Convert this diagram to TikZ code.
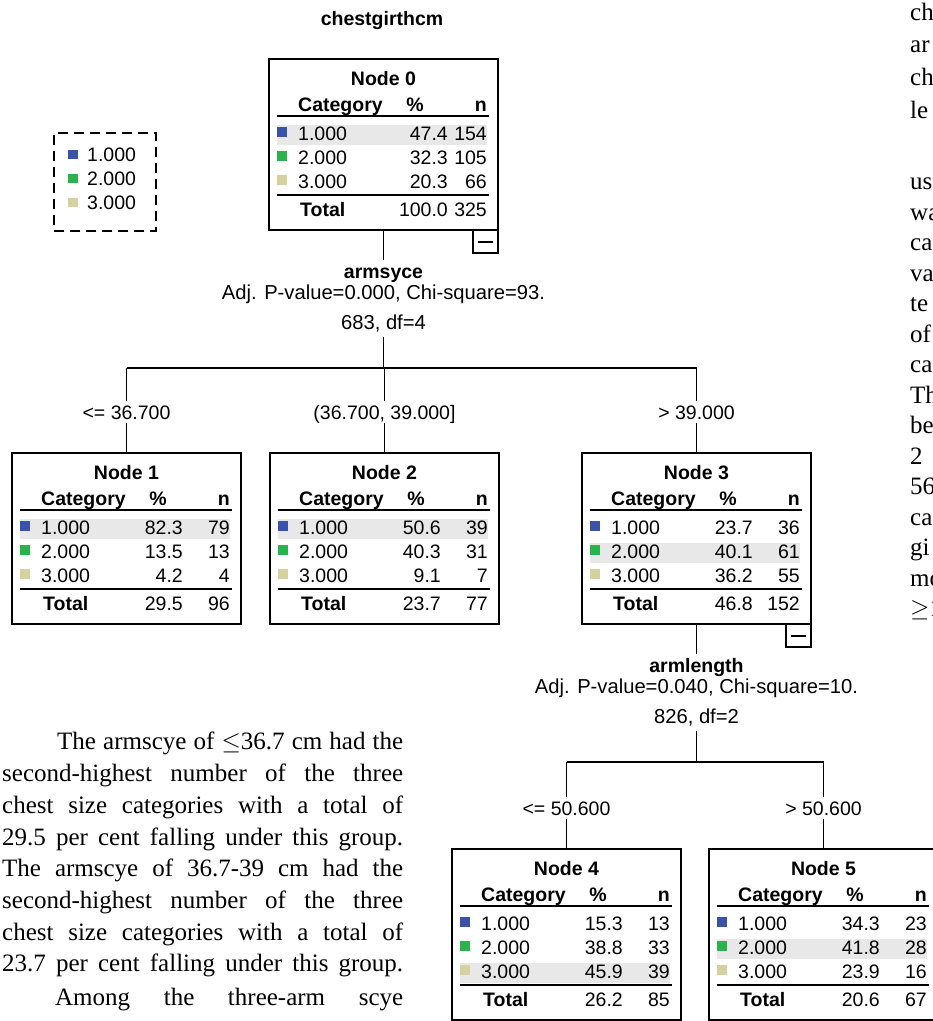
\documentclass[tikz,border=0pt]{standalone}
\usepackage{fontspec}
\setmainfont{Liberation Serif}
\newfontfamily\spssf{Liberation Sans}
\usetikzlibrary{calc}

\definecolor{catA}{HTML}{3A52A8}
\definecolor{catB}{HTML}{2BB24C}
\definecolor{catC}{HTML}{D6D2A0}
\definecolor{hl}{HTML}{E8E8E8}

\newcommand\sfnt{\spssf\fontsize{19.5}{21}\selectfont}
\newcommand\stfnt{\spssf\fontsize{20.2}{21}\selectfont}
\newcommand\bodyfnt{\fontsize{25}{32}\selectfont}
\def\pcol{171}

\tikzset{
 treebox/.style={draw, line width=1.8pt, minimum width=229pt, minimum height=171pt, inner sep=0pt, outer sep=0pt, anchor=north west},
 sp/.style={font=\sfnt, inner sep=0pt},
 hd/.style={font=\sfnt\bfseries, inner sep=0pt},
 st/.style={font=\stfnt, inner sep=0pt, anchor=base},
 rule/.style={line width=1.6pt},
 conn/.style={line width=1.8pt},
 splitlab/.style={font=\sfnt, inner xsep=2pt, inner ysep=4pt, text height=14pt, text depth=0pt, anchor=base},
 body/.style={font=\bodyfnt, inner sep=0pt, anchor=base west},
 minusbox/.style={line width=1.6pt},
}

\newcommand\TreeBody[9]{%
\begin{scope}[shift={(#1.north west)}]
 \fill[hl] (8,{42+24*#9}) rectangle (218,{62+24*#9});
 \node[hd,anchor=base] (#1-t) at (114.5,26) {#2};
 \node[hd,anchor=base west] (#1-c) at (29,52) {Category};
 \node[hd,anchor=base] (#1-p) at (146,52) {\%};
 \node[hd,anchor=base east] (#1-n) at (218,52) {n};
 \draw[rule] (8,57) -- (220,57);
 \fill[catA] (8,68) rectangle (18,78);
 \fill[catB] (8,92) rectangle (18,102);
 \fill[catC] (8,116) rectangle (18,126);
 \node[sp,anchor=base west] (#1-k1) at (29,81) {1.000};
 \node[sp,anchor=base west] (#1-k2) at (29,105) {2.000};
 \node[sp,anchor=base west] (#1-k3) at (29,129) {3.000};
 \node[sp,anchor=base east] (#1-p1) at (\pcol,81) {#3};
 \node[sp,anchor=base east] (#1-n1) at (218,81) {#4};
 \node[sp,anchor=base east] (#1-p2) at (\pcol,105) {#5};
 \node[sp,anchor=base east] (#1-n2) at (218,105) {#6};
 \node[sp,anchor=base east] (#1-p3) at (\pcol,129) {#7};
 \node[sp,anchor=base east] (#1-n3) at (218,129) {#8};
 \draw[rule] (8,136) -- (220,136);
\end{scope}}

\newcommand\TreeTotal[3]{%
\begin{scope}[shift={(#1.north west)}]
 \node[hd,anchor=base west] (#1-tl) at (31,157) {Total};
 \node[sp,anchor=base east] (#1-tp) at (\pcol,157) {#2};
 \node[sp,anchor=base east] (#1-tn) at (218,157) {#3};
\end{scope}}

\newcommand\TreeMinus[1]{%
\begin{scope}[shift={(#1.south east)}]
 \draw[minusbox] (-25,0) rectangle (0,23);
 \draw[minusbox] (-20,12) -- (-5,12);
\end{scope}}

\begin{document}
\begin{tikzpicture}[x=1pt,y=-1pt]
\useasboundingbox (0,0) rectangle (933,1021);
\clip (0,0) rectangle (933,1021);

% ---------- title and legend ----------
\node[hd,anchor=base] (title) at (382,25) {chestgirthcm};
\node[draw, line width=2.2pt, dash pattern=on 10pt off 6pt, minimum width=102pt, minimum height=98pt, inner sep=0pt, anchor=north west] (legend) at (53,132) {};
\fill[catA] (68,150) rectangle (78,159);
\fill[catB] (68,174) rectangle (78,183);
\fill[catC] (68,198) rectangle (78,207);
\node[sp,anchor=base west] (lg1) at (87,161) {1.000};
\node[sp,anchor=base west] (lg2) at (87,185) {2.000};
\node[sp,anchor=base west] (lg3) at (87,209) {3.000};

% ---------- tree nodes ----------
\node[treebox] (n0) at (269,59) {};
\node[treebox] (n1) at (12,453) {};
\node[treebox] (n2) at (270,453) {};
\node[treebox] (n3) at (582,453) {};
\node[treebox] (n4) at (452,849) {};
\node[treebox] (n5) at (709,849) {};

\def\pcol{179}
\TreeBody{n0}{Node 0}{47.4}{154}{32.3}{105}{20.3}{66}{1}
\TreeTotal{n0}{100.0}{325}
\def\pcol{171}
\TreeBody{n1}{Node 1}{82.3}{79}{13.5}{13}{4.2}{4}{1}
\TreeTotal{n1}{29.5}{96}
\TreeBody{n2}{Node 2}{50.6}{39}{40.3}{31}{9.1}{7}{1}
\TreeTotal{n2}{23.7}{77}
\TreeBody{n3}{Node 3}{23.7}{36}{40.1}{61}{36.2}{55}{2}
\TreeTotal{n3}{46.8}{152}
\TreeBody{n4}{Node 4}{15.3}{13}{38.8}{33}{45.9}{39}{3}
\TreeTotal{n4}{26.2}{85}
\TreeBody{n5}{Node 5}{34.3}{23}{41.8}{28}{23.9}{16}{2}
\TreeTotal{n5}{20.6}{67}
\TreeMinus{n0}
\TreeMinus{n3}

% ---------- split statistics ----------
\node[splitlab,font=\sfnt\bfseries] (s0a) at ($(n0.south)+(0,48)$) {armsyce};
\node[st] (s0b) at ($(n0.south)+(0,69)$) {Adj. P-value=0.000, Chi-square=93.};
\node[splitlab,font=\stfnt,inner ysep=8pt] (s0c) at ($(n0.south)+(0,99)$) {683, df=4};
\coordinate (b0) at ($(n0.south)+(0,138)$);

\node[splitlab,font=\sfnt\bfseries] (s3a) at ($(n3.south)+(0,48)$) {armlength};
\node[st] (s3b) at ($(n3.south)+(0,69)$) {Adj. P-value=0.040, Chi-square=10.};
\node[splitlab,font=\stfnt,inner ysep=8pt] (s3c) at ($(n3.south)+(0,99)$) {826, df=2};
\coordinate (b3) at ($(n3.south)+(0,138)$);

% ---------- split labels ----------
\node[splitlab] (l1) at ($(n1.north)+(0,-34)$) {<= 36.700};
\node[splitlab] (l2) at ($(n2.north)+(0,-34)$) {(36.700, 39.000]};
\node[splitlab] (l3) at ($(n3.north)+(0,-34)$) {> 39.000};
\node[splitlab] (l4) at ($(n4.north)+(0,-34)$) {<= 50.600};
\node[splitlab] (l5) at ($(n5.north)+(0,-34)$) {> 50.600};

% ---------- connectors ----------
\draw[conn] (n0.south) -- (s0a.north);
\draw[conn] (s0c.south) -- (b0);
\draw[conn] (n1.north |- b0) -- (n3.north |- b0);
\draw[conn] (n1.north |- b0) -- (l1.north);
\draw[conn] (l1.south) -- (n1.north);
\draw[conn] (n2.north |- b0) -- (l2.north);
\draw[conn] (l2.south) -- (n2.north);
\draw[conn] (n3.north |- b0) -- (l3.north);
\draw[conn] (l3.south) -- (n3.north);

\draw[conn] (n3.south) -- (s3a.north);
\draw[conn] (s3c.south) -- (b3);
\draw[conn] (n4.north |- b3) -- (n5.north |- b3);
\draw[conn] (n4.north |- b3) -- (l4.north);
\draw[conn] (l4.south) -- (n4.north);
\draw[conn] (n5.north |- b3) -- (l5.north);
\draw[conn] (l5.south) -- (n5.north);

% ---------- body text, left column ----------
\node[body] (t1) at (57,749) {\makebox[346pt][s]{The armscye of $\leq$36.7 cm had the}};
\node[body] (t2) at (2,781) {\makebox[401pt][s]{second-highest number of the three}};
\node[body] (t3) at (2,813) {\makebox[401pt][s]{chest size categories with a total of}};
\node[body] (t4) at (2,845) {\makebox[401pt][s]{29.5 per cent falling under this group.}};
\node[body] (t5) at (2,876) {\makebox[401pt][s]{The armscye of 36.7-39 cm had the}};
\node[body] (t6) at (2,908) {\makebox[401pt][s]{second-highest number of the three}};
\node[body] (t7) at (2,940) {\makebox[401pt][s]{chest size categories with a total of}};
\node[body] (t8) at (2,971) {\makebox[401pt][s]{23.7 per cent falling under this group.}};
\node[body] (t9) at (55,1005) {\makebox[348pt][s]{Among the three-arm scye}};

% ---------- body text, right column (cut off by the page edge) ----------
\node[body] (r1) at (910,20) {ch};
\node[body] (r2) at (910,52) {ar};
\node[body] (r3) at (910,85) {ch};
\node[body] (r4) at (910,118) {le};
\node[body] (r5) at (910,189) {us};
\node[body] (r6) at (910,220) {wa};
\node[body] (r7) at (910,250) {ca};
\node[body] (r8) at (910,281) {va};
\node[body] (r9) at (910,311) {te};
\node[body] (r10) at (910,342) {of};
\node[body] (r11) at (910,372) {ca};
\node[body] (r12) at (910,403) {Th};
\node[body] (r13) at (910,433) {be};
\node[body] (r14) at (910,464) {2};
\node[body] (r15) at (910,494) {56};
\node[body] (r16) at (910,525) {ca};
\node[body] (r17) at (910,555) {gi};
\node[body] (r18) at (910,586) {mo};
\node[body] (r19) at (910,616) {$\geq$1};
\end{tikzpicture}
\end{document}
